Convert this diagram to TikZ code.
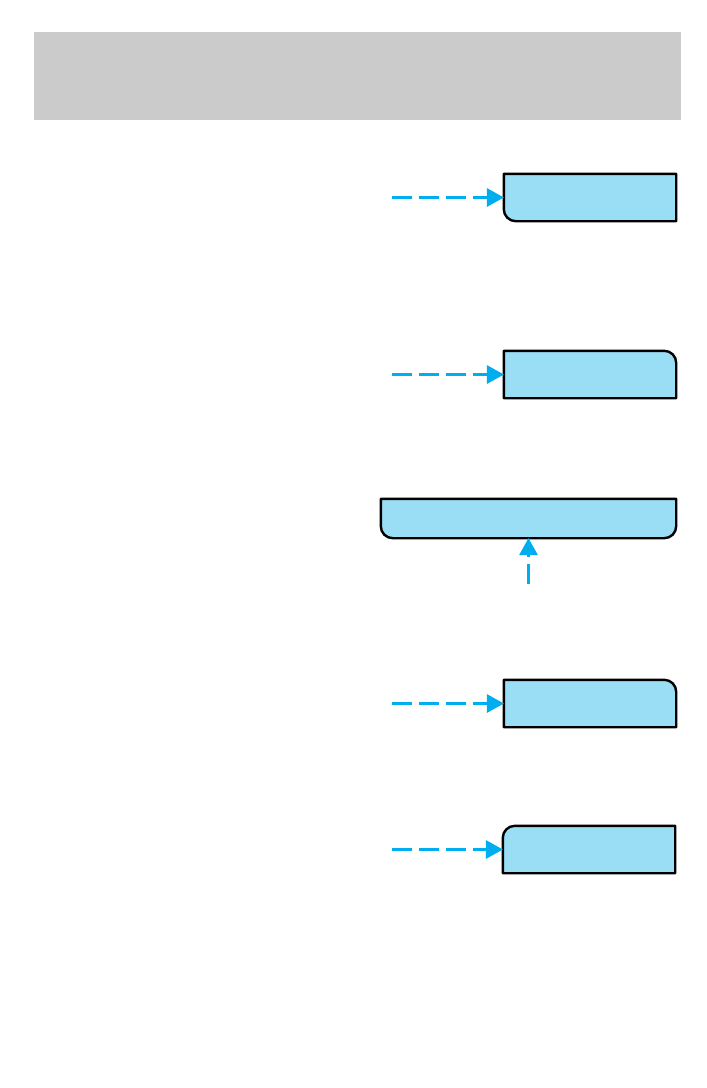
\documentclass[tikz,border=0pt]{standalone}
\usetikzlibrary{arrows.meta}
\definecolor{bandgray}{HTML}{CBCBCB}
\definecolor{boxblue}{HTML}{9ADEF6}
\definecolor{arrowcyan}{HTML}{00AEEF}
\tikzset{
  anchorbox/.style={rectangle,draw=none,inner sep=0pt,minimum width=172pt,minimum height=47pt},
  boxline/.style={draw=black,fill=boxblue,line width=2.4pt,line join=round},
  pointer/.style={draw=arrowcyan,line width=3.2pt,dash pattern=on 20pt off 7pt,
    -{Triangle[length=17pt,width=19pt,fill=arrowcyan,line width=0pt]}},
}
\begin{document}
\begin{tikzpicture}[x=1pt,y=-1pt]
\useasboundingbox (0,0) rectangle (707,1088);
% header band
\fill[bandgray] (34,32) rectangle (681,120);
% anchor nodes
\node[anchorbox] (b1) at (590,197.5) {};
\node[anchorbox] (b2) at (590,374.5) {};
\node[anchorbox,minimum width=295pt,minimum height=39pt] (b3) at (528.5,518.5) {};
\node[anchorbox] (b4) at (590,703.5) {};
\node[anchorbox] (b5) at (589,849.5) {};
% box 1: bottom-left rounded
\path[boxline] (b1.north west) -- (b1.north east) -- (b1.south east)
  -- ([xshift=12pt]b1.south west) arc[start angle=270,end angle=180,radius=12pt] -- cycle;
% box 2: top-right rounded
\path[boxline] (b2.north west) -- ([xshift=-12pt]b2.north east)
  arc[start angle=90,end angle=0,radius=12pt] -- (b2.south east) -- (b2.south west) -- cycle;
% box 3: bottom corners rounded
\path[boxline] (b3.north west) -- (b3.north east)
  -- ([yshift=12pt]b3.south east) arc[start angle=0,end angle=-90,radius=12pt]
  -- ([xshift=12pt]b3.south west) arc[start angle=270,end angle=180,radius=12pt] -- cycle;
% box 4: top-right rounded
\path[boxline] (b4.north west) -- ([xshift=-12pt]b4.north east)
  arc[start angle=90,end angle=0,radius=12pt] -- (b4.south east) -- (b4.south west) -- cycle;
% box 5: top-left rounded
\path[boxline] ([xshift=12pt]b5.north west) -- (b5.north east) -- (b5.south east) -- (b5.south west)
  -- ([yshift=-12pt]b5.north west) arc[start angle=180,end angle=90,radius=12pt] -- cycle;
% arrow start points
\coordinate (s1) at (392,197.5);
\coordinate (s2) at (392,374.5);
\coordinate (s3) at (528.5,584);
\coordinate (s4) at (392,703.5);
\coordinate (s5) at (392,849.5);
% arrows
\draw[pointer] (s1) -- (b1.west);
\draw[pointer] (s2) -- (b2.west);
\draw[pointer] (s3) -- (b3.south);
\draw[pointer] (s4) -- (b4.west);
\draw[pointer] (s5) -- (b5.west);
\end{tikzpicture}
\end{document}
